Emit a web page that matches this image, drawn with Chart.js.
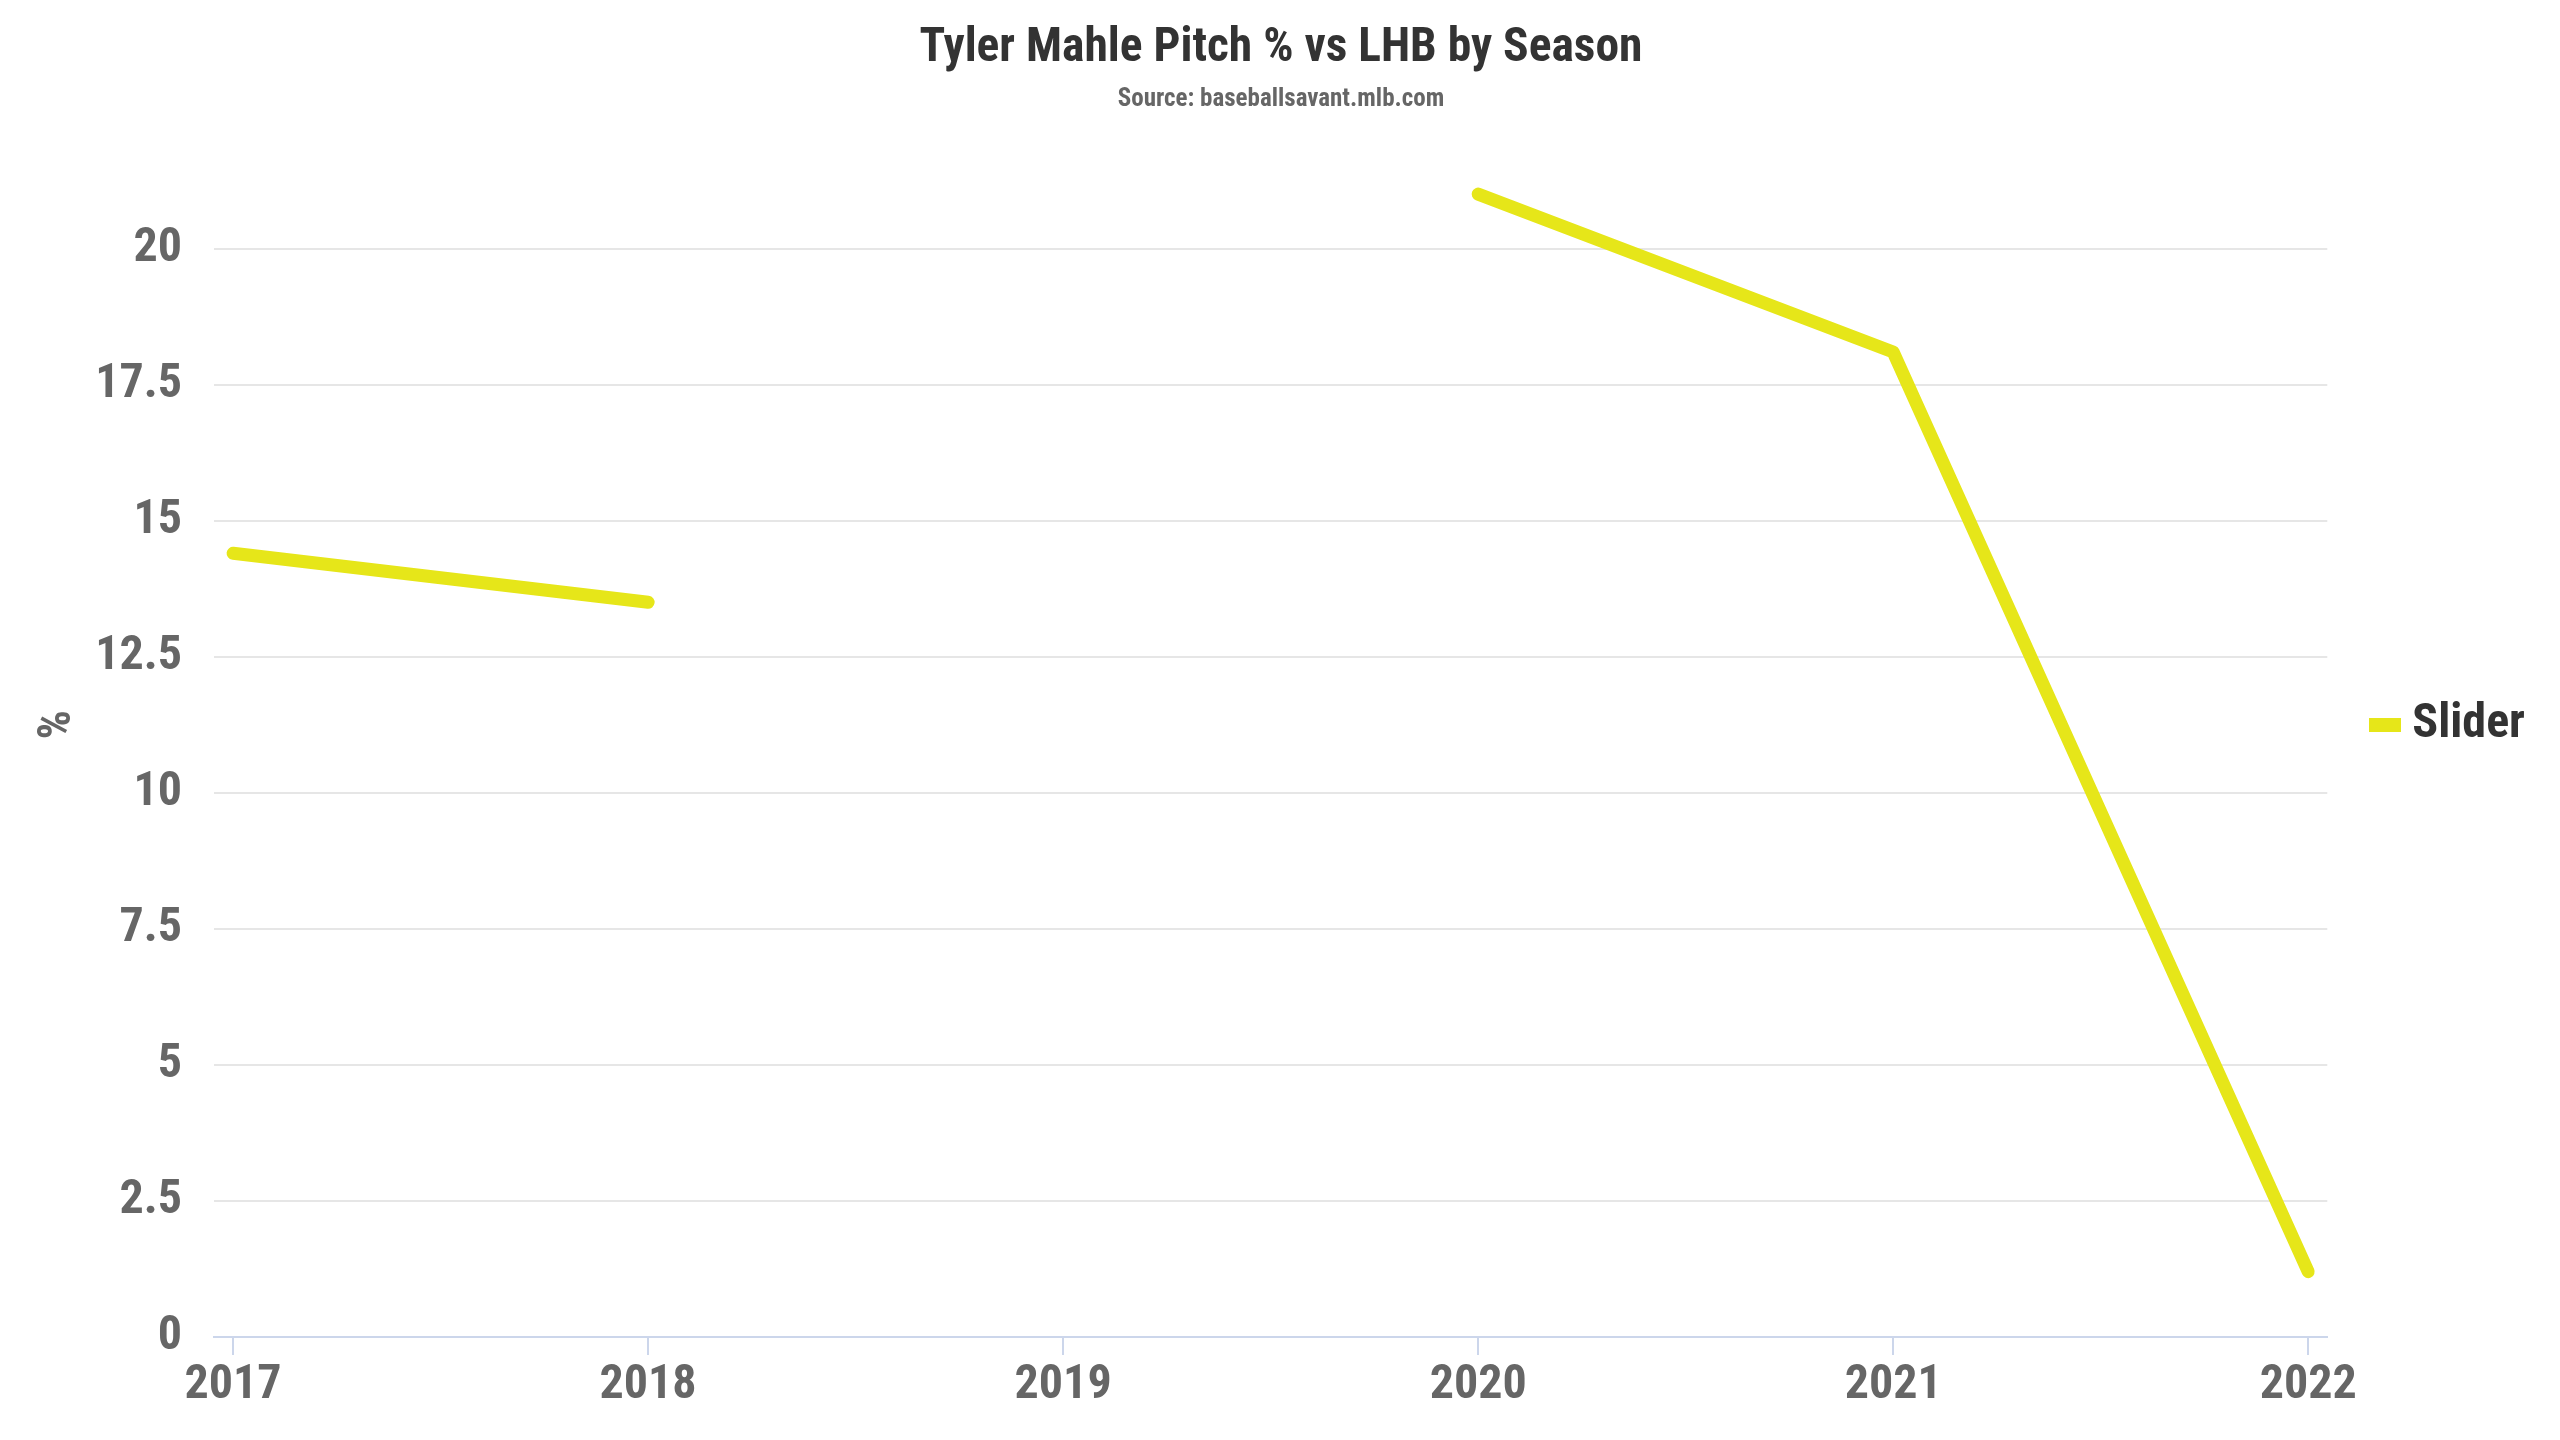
<!DOCTYPE html>
<html>
<head>
<meta charset="utf-8">
<title>Tyler Mahle Pitch % vs LHB by Season</title>
<script src="https://cdn.jsdelivr.net/npm/chart.js@4.4.1/dist/chart.umd.min.js"></script>
<style>
  html, body { margin: 0; padding: 0; background: #ffffff; }
  canvas { display: block; }
</style>
</head>
<body>
<canvas id="pitch-chart" width="2560" height="1440"></canvas>
<script>
// seasons on the x axis, slider share vs LHB (2019: no data)
const seasons = [2017, 2018, 2019, 2020, 2021, 2022];
const sliderPct = [14.4, 13.5, null, 21.0, 18.1, 1.2];
const yTicks = [0, 2.5, 5, 7.5, 10, 12.5, 15, 17.5, 20];

const FONT = "'Roboto Condensed', 'Liberation Sans Narrow', 'Roboto', sans-serif";
const SLIDER_COLOR = '#e6e619';

Chart.defaults.font.family = FONT;

// flat legend swatch drawn as an image point style
const swatch = document.createElement('canvas');
swatch.width = 32;
swatch.height = 14;
const sctx = swatch.getContext('2d');
sctx.fillStyle = SLIDER_COLOR;
sctx.fillRect(0, 0, 32, 14);

const ctx = document.getElementById('pitch-chart').getContext('2d');

new Chart(ctx, {
  type: 'line',
  data: {
    datasets: [
      {
        label: 'Slider',
        data: seasons.map((year, i) => ({ x: year, y: sliderPct[i] })),
        borderColor: SLIDER_COLOR,
        backgroundColor: SLIDER_COLOR,
        borderWidth: 13,
        borderCapStyle: 'round',
        borderJoinStyle: 'round',
        pointRadius: 0,
        pointHoverRadius: 0,
        spanGaps: false,
        tension: 0,
      },
    ],
  },
  options: {
    responsive: false,
    devicePixelRatio: 1,
    animation: false,
    layout: {
      padding: { top: 0, left: 27, right: 25, bottom: 0 },
    },
    plugins: {
      title: {
        display: true,
        text: 'Tyler Mahle Pitch % vs LHB by Season',
        color: '#333333',
        font: { size: 47.5, weight: 'bold' },
        padding: { top: 21, bottom: 6 },
      },
      subtitle: {
        display: true,
        text: 'Source: baseballsavant.mlb.com',
        color: '#666666',
        font: { size: 25, weight: 'bold', lineHeight: 1 },
        padding: { top: 3.5, bottom: 0 },
      },
      legend: {
        position: 'right',
        align: 'center',
        fullSize: false,
        labels: {
          color: '#333333',
          font: { size: 48, weight: 'bold' },
          usePointStyle: true,
          pointStyle: swatch,
          pointStyleWidth: 6,
          padding: 55,
        },
      },
      tooltip: { enabled: false },
    },
    scales: {
      x: {
        type: 'linear',
        min: 2016.954,
        max: 2022.046,
        afterBuildTicks: (axis) => {
          axis.ticks = seasons.map((v) => ({ value: v }));
        },
        afterFit: (axis) => {
          axis.height = 103;
        },
        grid: {
          drawOnChartArea: false,
          drawTicks: true,
          tickLength: 18,
          color: '#ccd6eb',
          lineWidth: 2,
        },
        border: {
          display: true,
          color: '#ccd6eb',
          width: 2,
        },
        ticks: {
          autoSkip: false,
          maxRotation: 0,
          padding: 2,
          color: '#666666',
          font: { size: 48, weight: 'bold' },
          callback: (value) => String(value),
        },
      },
      y: {
        min: 0,
        max: 22.5,
        afterBuildTicks: (axis) => {
          axis.ticks = yTicks.map((v) => ({ value: v }));
        },
        afterFit: (axis) => {
          axis.width = 187;
        },
        grid: {
          color: '#e6e6e6',
          lineWidth: 2,
          drawTicks: false,
        },
        border: { display: false },
        ticks: {
          padding: 32,
          color: '#666666',
          font: { size: 48, weight: 'bold' },
          callback: (value) => String(value),
        },
        title: {
          display: true,
          text: '%',
          color: '#666666',
          font: { size: 46, weight: 'bold' },
          padding: { top: 4, bottom: 0 },
        },
      },
    },
  },
});
</script>
</body>
</html>
